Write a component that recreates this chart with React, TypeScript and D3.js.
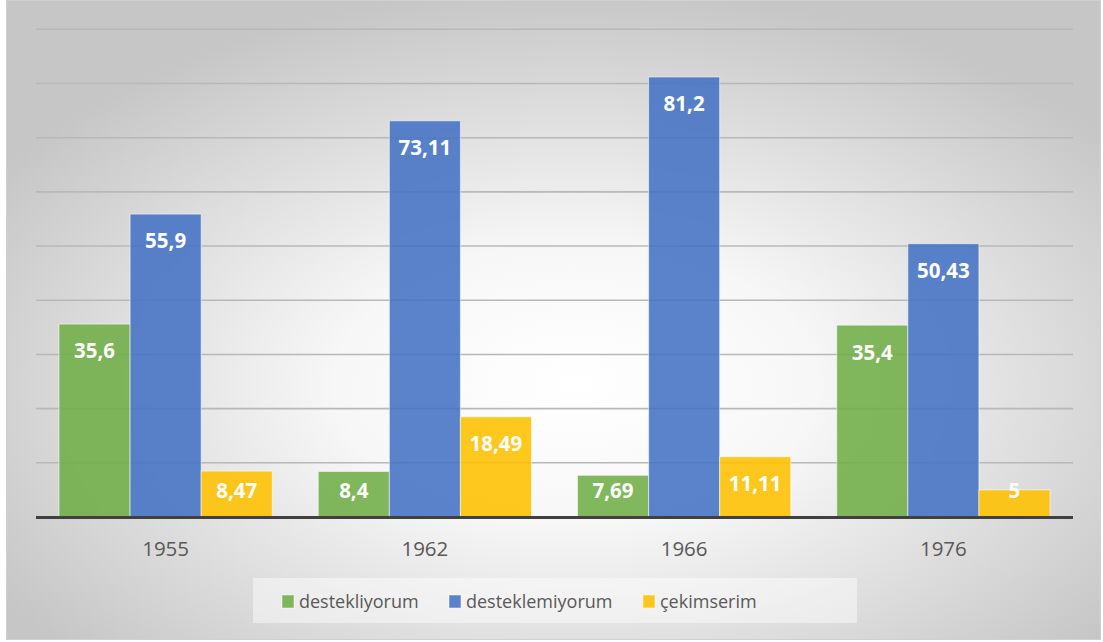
import React from "react";
import * as d3 from "d3";

const categories = ["1955", "1962", "1966", "1976"];
const seriesNames = ["destekliyorum", "desteklemiyorum", "çekimserim"];
const destekliyorum = [35.6, 8.4, 7.69, 35.4];
const desteklemiyorum = [55.9, 73.11, 81.2, 50.43];
const cekimserim = [8.47, 18.49, 11.11, 5];
const labels = [
  ["35,6", "8,4", "7,69", "35,4"],
  ["55,9", "73,11", "81,2", "50,43"],
  ["8,47", "18,49", "11,11", "5"],
];
const yTicks = [10, 20, 30, 40, 50, 60, 70, 80, 90];
const colors = ["#70ad47", "#4472c4", "#ffc000"];

const W = 1103;
const H = 642;

export default function App() {
  const values = [destekliyorum, desteklemiyorum, cekimserim];
  const plotL = 36;
  const plotR = 1073;
  const base = 517;
  const y = d3.scaleLinear().domain([0, 90]).range([base, 29.3]);
  const x0 = d3.scaleBand<string>().domain(categories).range([plotL, plotR]);
  const gap = 23;
  const x1 = d3
    .scaleBand<string>()
    .domain(seriesNames)
    .range([gap, x0.bandwidth() - gap]);
  const font = "'Open Sans', 'Liberation Sans', sans-serif";

  const legendItems = [
    { name: seriesNames[0], mx: 282, tx: 299 },
    { name: seriesNames[1], mx: 449, tx: 466 },
    { name: seriesNames[2], mx: 643, tx: 660 },
  ];

  return (
    <svg
      width={W}
      height={H}
      style={{ position: "absolute", left: 0, top: 0 }}
      fontFamily={font}
    >
      <defs>
        <radialGradient id="bg" cx="0.52" cy="0.6" r="0.62" gradientUnits="objectBoundingBox">
          <stop offset="0" stopColor="#ffffff" />
          <stop offset="0.35" stopColor="#f7f7f7" />
          <stop offset="1" stopColor="#c6c6c6" />
        </radialGradient>
      </defs>
      <rect x={0} y={0} width={W} height={H} fill="#ffffff" />
      <rect x={6.5} y={0.5} width={1094} height={639} fill="url(#bg)" stroke="#d0d0d0" strokeWidth={1} />
      {yTicks.map((t) => (
        <line
          key={t}
          x1={plotL}
          x2={plotR}
          y1={y(t)}
          y2={y(t)}
          stroke="#b8b8b8"
          strokeWidth={1.6}
        />
      ))}
      {seriesNames.map((s, si) =>
        categories.map((c, ci) => {
          const v = values[si][ci];
          const bx = (x0(c) as number) + (x1(s) as number);
          const top = y(v);
          return (
            <rect
              key={s + c}
              x={bx}
              y={top}
              width={x1.bandwidth()}
              height={base - top}
              fill={colors[si]}
              fillOpacity={0.88}
              stroke="#ffffff"
              strokeOpacity={0.55}
              strokeWidth={1}
            />
          );
        })
      )}
      <line x1={plotL} x2={plotR} y1={base + 0.5} y2={base + 0.5} stroke="#404040" strokeWidth={3} />
      {seriesNames.map((s, si) =>
        categories.map((c, ci) => {
          const v = values[si][ci];
          const cx = (x0(c) as number) + (x1(s) as number) + x1.bandwidth() / 2;
          const cy = Math.min(y(v) + 27, base - 26);
          return (
            <text
              key={"l" + s + c}
              x={cx}
              y={cy}
              dy="0.36em"
              textAnchor="middle"
              fill="#ffffff"
              fontWeight="bold"
              fontSize={20.5}
            >
              {labels[si][ci]}
            </text>
          );
        })
      )}
      {categories.map((c) => (
        <text
          key={"c" + c}
          x={(x0(c) as number) + x0.bandwidth() / 2}
          y={556}
          textAnchor="middle"
          fill="#595959"
          fontSize={20.5}
        >
          {c}
        </text>
      ))}
      <rect x={253} y={578} width={604} height={45} fill="#ffffff" fillOpacity={0.45} />
      {legendItems.map((it, i) => (
        <g key={it.name}>
          <rect x={it.mx} y={595} width={12} height={13} fill={colors[i]} fillOpacity={0.88} stroke="#ffffff" strokeOpacity={0.5} />
          <text x={it.tx} y={608} fill="#595959" fontSize={18}>
            {it.name}
          </text>
        </g>
      ))}
    </svg>
  );
}
